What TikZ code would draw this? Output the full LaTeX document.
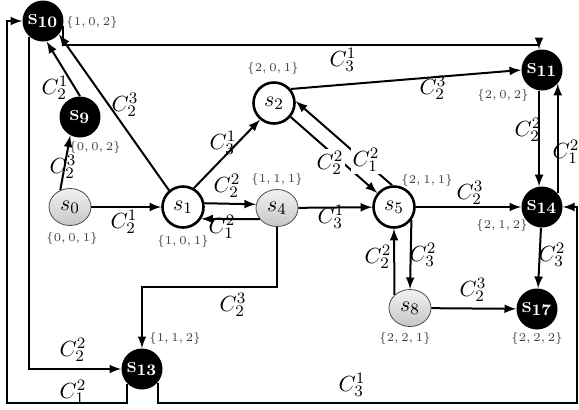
\documentclass[tikz,border=0pt]{standalone}
\usetikzlibrary{shapes.geometric}
\begin{document}
\begin{tikzpicture}
    [
    x=0.5pt,y=-0.5pt,
    whitestate/.style={circle,draw,line width=1.3pt,fill=white,inner sep=0pt,minimum size=20.5pt,font=\fontsize{11}{11}\selectfont},
    graystate/.style={ellipse,draw=gray!60!black,line width=0.4pt,top color=gray!10,bottom color=gray!45,inner sep=0pt,minimum width=21pt,minimum height=18.5pt,font=\fontsize{11}{11}\selectfont},
    blackstate/.style={circle,fill=black,text=white,inner sep=0pt,minimum size=20.5pt,font=\fontsize{11}{11}\selectfont\bfseries},
    vec/.style={font=\fontsize{6}{6}\selectfont,text=black!75,inner sep=0pt},
    cost/.style={font=\fontsize{11}{11}\selectfont,inner sep=1pt},
    edgeto/.style={-latex,line width=1pt}
    ]
    \useasboundingbox (0,0) rectangle (579,409);
    \node (s10) at (43,21) [blackstate] {s$_{\mathbf{10}}$};
    \node (s9) at (80,117) [blackstate] {s$_{\mathbf{9}}$};
    \node (s0) at (70,207) [graystate] {$s_0$};
    \node (s1) at (183,207) [whitestate] {$s_1$};
    \node (s2) at (274,103) [whitestate] {$s_2$};
    \node (s4) at (277,208) [graystate] {$s_4$};
    \node (s5) at (394,207) [whitestate] {$s_5$};
    \node (s8) at (410,308) [graystate] {$s_8$};
    \node (s11) at (542,70) [blackstate] {s$_{\mathbf{11}}$};
    \node (s14) at (542,207) [blackstate] {s$_{\mathbf{14}}$};
    \node (s17) at (537,309) [blackstate] {s$_{\mathbf{17}}$};
    \node (s13) at (142,369) [blackstate] {s$_{\mathbf{13}}$};
    % vectors
    \node (v10) at (92,22) [vec] {$\{1,0,2\}$};
    \node (v9) at (95,147) [vec] {$\{0,0,2\}$};
    \node (v0) at (72,238) [vec] {$\{0,0,1\}$};
    \node (v1) at (183,241) [vec] {$\{1,0,1\}$};
    \node (v4) at (277,179) [vec] {$\{1,1,1\}$};
    \node (v2) at (273,68) [vec] {$\{2,0,1\}$};
    \node (v5) at (427,180) [vec] {$\{2,1,1\}$};
    \node (v11) at (503,95) [vec] {$\{2,0,2\}$};
    \node (v14) at (502,225) [vec] {$\{2,1,2\}$};
    \node (v8) at (405,338) [vec] {$\{2,2,1\}$};
    \node (v17) at (537,338) [vec] {$\{2,2,2\}$};
    \node (v13) at (175,338) [vec] {$\{1,1,2\}$};
    % bends
    \coordinate (topbend) at (539,45);
    \coordinate (dropbend) at (277,287);
    \coordinate (outleft) at (7,403);
    \coordinate (outright) at (577,403);
    \draw [edgeto] (s0) to (s1);
    \draw [edgeto] (s0.120) to (s9.-118);
    \draw [edgeto] (s9.north) to (s10.-80);
    \draw [edgeto] (s1.130) to (s10.-40);
    \draw [edgeto] (s1.60) to (s2.-130);
    \draw [edgeto] (s1.10) to (s4.170);
    \draw [edgeto] (s4.-147) to (s1.-33);
    \draw [edgeto] (s4) to (s5);
    \draw [edgeto] (s2.-40) to (s5.140);
    \draw [edgeto] (s5.95) to (s2.5);
    \draw [edgeto] (s2.40) to (s11.west);
    \draw [edgeto] (s10.-15) |- (topbend) -- (topbend |- s11.north);
    \draw [edgeto] (s11.-98) to (s14.98);
    \draw [edgeto] (s14.41) to (s11.-41);
    \draw [edgeto] (s5) to (s14);
    \draw [edgeto] (s5.-37) to (s8.north);
    \draw [edgeto] (s8.140) to (s5.south);
    \draw [edgeto] (s8) to (s17);
    \draw [edgeto] (s14) to (s17);
    \draw [edgeto] (s4) -- (dropbend) -| (s13);
    \draw [edgeto] (s10.-131) |- (s13);
    \draw [edgeto] (s13.-134) |- (outleft) |- (s10);
    \draw [edgeto] (s13.-41) |- (outright) |- (s14);
    % costs
    \node (c01) at (124,222) [cost] {$C_2^1$};
    \node (c09) at (63,167) [cost] {$C_2^3$};
    \node (c910) at (55,88) [cost] {$C_2^1$};
    \node (c110) at (125,105) [cost] {$C_2^3$};
    \node (c12) at (223,143) [cost] {$C_3^1$};
    \node (c14) at (227,186) [cost] {$C_2^2$};
    \node (c41) at (222,227) [cost] {$C_1^2$};
    \node (c45) at (331,217) [cost] {$C_3^1$};
    \node (c25) at (330,163) [cost,fill=white] {$C_2^2$};
    \node (c52) at (366,160) [cost,fill=white] {$C_1^2$};
    \node (c211) at (433,88) [cost] {$C_2^3$};
    \node (c1011) at (343,60) [cost] {$C_3^1$};
    \node (c1114) at (528,130) [cost] {$C_2^2$};
    \node (c1411) at (566,152) [cost] {$C_1^2$};
    \node (c514) at (470,193) [cost] {$C_2^3$};
    \node (c58) at (423,255) [cost] {$C_3^2$};
    \node (c85) at (378,257) [cost] {$C_2^2$};
    \node (c817) at (473,290) [cost] {$C_2^3$};
    \node (c1417) at (552,255) [cost] {$C_3^2$};
    \node (c413) at (233,305) [cost] {$C_2^3$};
    \node (c1013) at (73,350) [cost] {$C_2^2$};
    \node (c1310) at (73,392) [cost] {$C_1^2$};
    \node (c1314) at (352,385) [cost] {$C_3^1$};
\end{tikzpicture}
\end{document}
